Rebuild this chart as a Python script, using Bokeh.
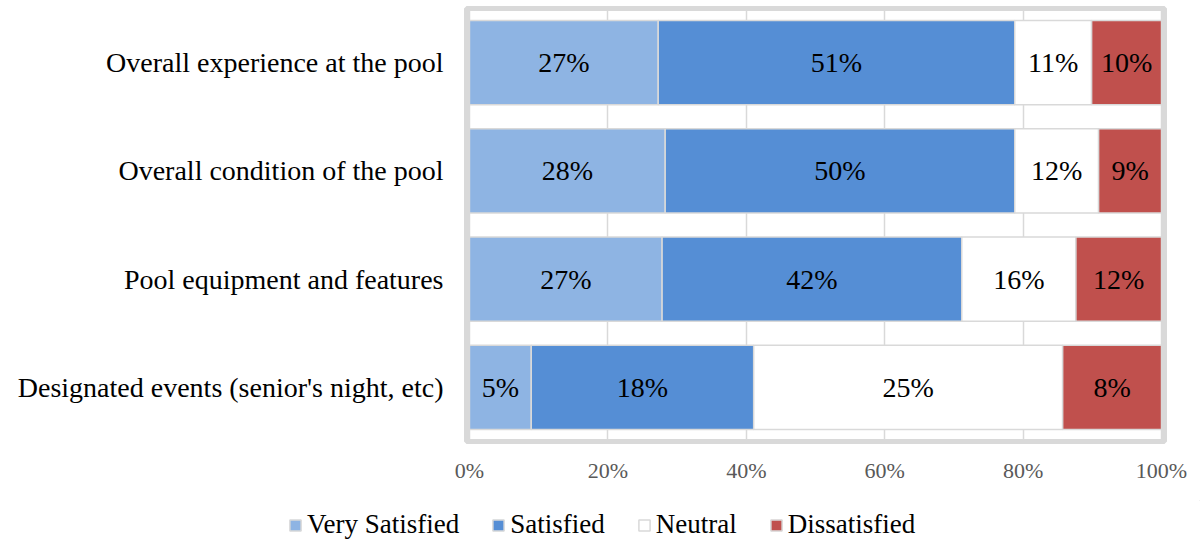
from bokeh.plotting import figure
from bokeh.layouts import column, row
from bokeh.models import ColumnDataSource, FactorRange, Range1d, Legend, LegendItem, FixedTicker, CustomJSTickFormatter
from bokeh.core.properties import value
from bokeh.embed import file_html
from bokeh.resources import INLINE

categories = ["Overall experience at the pool",
              "Overall condition of the pool",
              "Pool equipment and features",
              "Designated events (senior's night, etc)"]
series = ["Very Satisfied", "Satisfied", "Neutral", "Dissatisfied"]
very_satisfied = [27, 28, 27, 5]
satisfied = [51, 50, 42, 18]
neutral = [11, 12, 16, 25]
dissatisfied = [10, 9, 12, 8]
colors = ["#8EB4E3", "#558ED5", "#FFFFFF", "#C0504D"]
x_ticks = [0, 0.2, 0.4, 0.6, 0.8, 1.0]

FONT = "Liberation Serif"
values = [very_satisfied, satisfied, neutral, dissatisfied]
totals = [sum(v[i] for v in values) for i in range(len(categories))]

p = figure(width=1200, height=500, output_backend="svg", toolbar_location=None,
           y_range=FactorRange(factors=categories[::-1]),
           x_range=Range1d(-0.0043, 1.0043),
           min_border_left=466, min_border_right=36, min_border_top=8, min_border_bottom=59)
p.background_fill_color = "white"
p.border_fill_color = "white"
p.outline_line_color = "#D9D9D9"
p.outline_line_width = 5

p.xgrid.ticker = FixedTicker(ticks=x_ticks)
p.xgrid.grid_line_color = "#D9D9D9"
p.xgrid.grid_line_width = 1.5
p.ygrid.grid_line_color = None

p.xaxis.ticker = FixedTicker(ticks=x_ticks)
p.xaxis.formatter = CustomJSTickFormatter(code="return Math.round(tick*100) + '%';")
p.xaxis.axis_line_color = None
p.xaxis.major_tick_line_color = None
p.xaxis.minor_tick_line_color = None
p.xaxis.major_label_text_font = FONT
p.xaxis.major_label_text_font_size = "22px"
p.xaxis.major_label_text_color = "#595959"
p.xaxis.major_label_standoff = 10

p.yaxis.axis_line_color = None
p.yaxis.major_tick_line_color = None
p.yaxis.minor_tick_line_color = None
p.yaxis.major_label_text_font = FONT
p.yaxis.major_label_text_font_size = "28px"
p.yaxis.major_label_text_color = "#000000"
p.yaxis.major_label_standoff = 17

cum = [0.0] * len(categories)
for name, vals, col in zip(series, values, colors):
    left = [cum[i] for i in range(len(categories))]
    right = [cum[i] + vals[i] / totals[i] for i in range(len(categories))]
    mid = [(l + r) / 2 for l, r in zip(left, right)]
    src = ColumnDataSource(dict(y=categories, left=left, right=right, mid=mid,
                                label=[f"{v}%" for v in vals]))
    p.hbar(y="y", left="left", right="right", height=0.776, source=src,
           fill_color=col, line_color="#D9D9D9", line_width=1.5)
    p.text(x="mid", y="y", text="label", source=src, text_font=value(FONT),
           text_font_size="28px", text_color="#000000", text_align="center",
           text_baseline="middle")
    cum = right

# legend strip below the chart
lg = figure(width=1200, height=40, output_backend="svg", toolbar_location=None,
            x_range=Range1d(0, 1), y_range=Range1d(0, 1),
            x_axis_location=None, y_axis_location=None,
            min_border=0, min_border_left=0, min_border_right=0, min_border_top=0, min_border_bottom=0)
lg.outline_line_color = None
lg.grid.grid_line_color = None
lg.background_fill_color = "white"
lg.border_fill_color = "white"
items = []
for name, col in zip(series, colors):
    r = lg.hbar(y=[10], left=[10], right=[11], height=0.5,
                fill_color=col, line_color="#D9D9D9", line_width=1.5)
    items.append(LegendItem(label=name, renderers=[r]))
legend = Legend(items=items, orientation="horizontal", location=(288, 0),
                label_text_font="'Liberation Serif'", label_text_font_size="27px",
                label_text_color="#000000", label_text_font_style="normal",
                glyph_width=14, glyph_height=14, label_standoff=5, spacing=32,
                padding=0, margin=0, border_line_color=None, background_fill_alpha=0)
lg.add_layout(legend, "center")

layout = column(p, row(lg), spacing=0)
open("out.html", "w").write(file_html(layout, INLINE))
